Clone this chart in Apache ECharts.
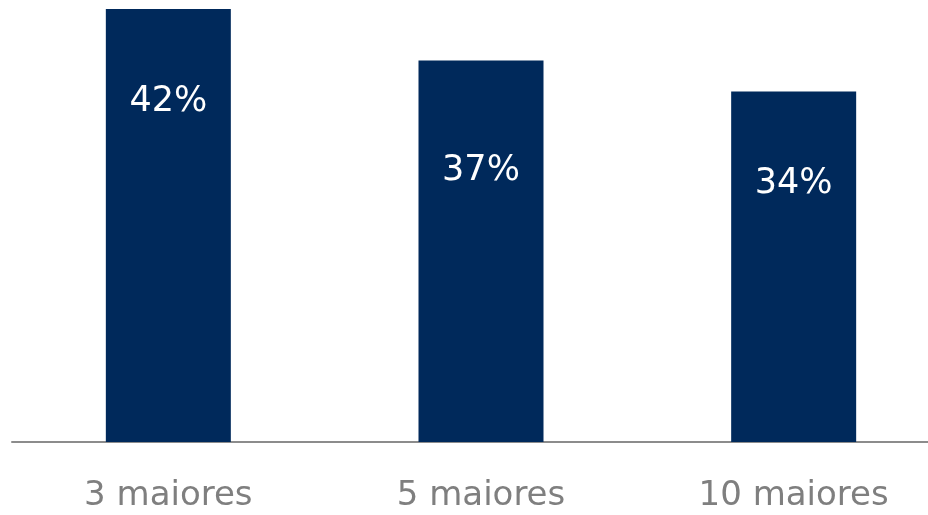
<!DOCTYPE html>
<html>
<head>
<meta charset="utf-8">
<script src="https://cdn.jsdelivr.net/npm/echarts@6/dist/echarts.min.js"></script>
<style>
html,body{margin:0;padding:0;background:#fff;overflow:hidden;width:928px;height:515px;}
#chart{width:950px;height:515px;}
</style>
</head>
<body>
<div id="chart"></div>
<script>
const categories = ['3 maiores', '5 maiores', '10 maiores'];
const values = [42, 37, 34];

const labelDistances = [75, 93, 75];

const chart = echarts.init(document.getElementById('chart'));
chart.setOption({
  animation: false,
  grid: { left: 12, right: 0, top: 9, bottom: 73 },
  xAxis: {
    type: 'category',
    data: categories,
    axisLine: { show: true, lineStyle: { color: '#8c8c8c', width: 2 } },
    axisTick: { show: false },
    axisLabel: { color: '#7f7f7f', fontSize: 34, fontFamily: 'DejaVu Sans', margin: 37 }
  },
  yAxis: { type: 'value', min: 0, max: 42, show: false, splitLine: { show: false } },
  series: [{
    type: 'bar',
    barWidth: 125,
    itemStyle: { color: '#00295B' },
    data: values.map((v, i) => ({
      value: v,
      label: { distance: labelDistances[i] }
    })),
    label: {
      show: true,
      position: 'insideTop',
      color: '#ffffff',
      fontSize: 35,
      fontFamily: 'DejaVu Sans',
      formatter: p => p.value + '%'
    }
  }]
});
</script>
</body>
</html>
